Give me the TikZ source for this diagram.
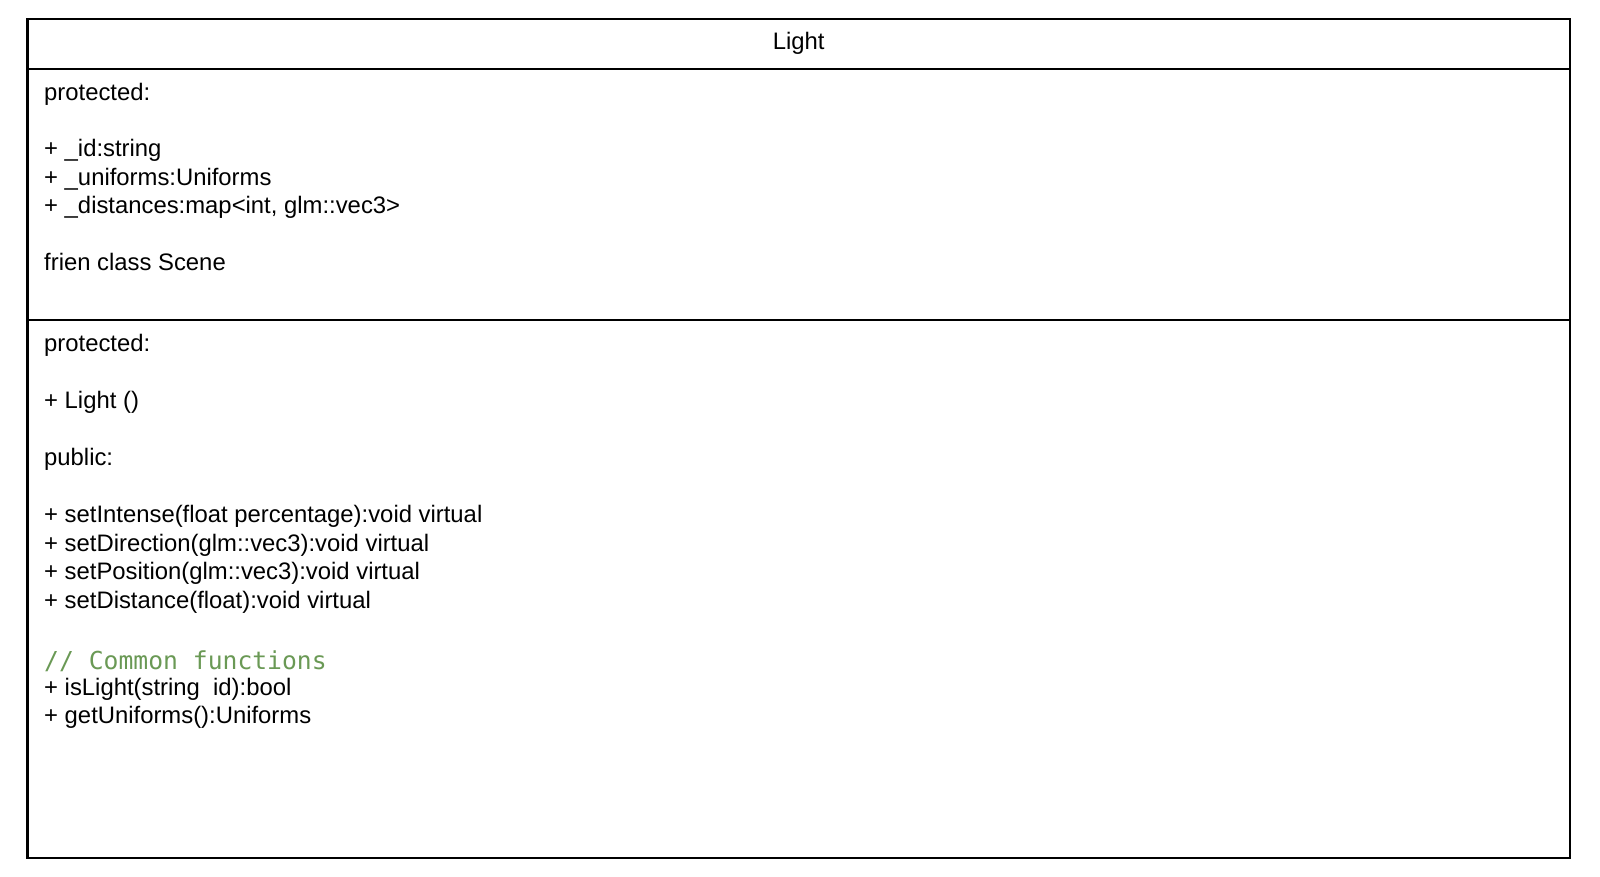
\documentclass[tikz,border=0pt]{standalone}
\usepackage{fontspec}
\setmainfont{Liberation Sans}
\newfontfamily\codefont{DejaVu Sans Mono}
\definecolor{commentgreen}{HTML}{6A9955}
\begin{document}
\begin{tikzpicture}[x=1pt,y=-1pt,
  boxline/.style={line width=2.5pt, draw=black},
  member/.style={anchor=base west, inner sep=0pt, font=\fontsize{23.85}{28}\selectfont},
  comment/.style={anchor=base west, inner sep=0pt, text=commentgreen, font=\codefont\fontsize{24.7}{28}\selectfont},
  title/.style={anchor=base, inner sep=0pt, font=\fontsize{23.85}{28}\selectfont}]
\useasboundingbox (0,0) rectangle (1600,877);
\coordinate (tl) at (27.5,19);
\coordinate (br) at (1570,858);
\coordinate (h1l) at (27.5,69);
\coordinate (h1r) at (1570,69);
\coordinate (h2l) at (27.5,320);
\coordinate (h2r) at (1570,320);
\draw[boxline] (tl) rectangle (br);
\draw[boxline] (h1l) -- (h1r);
\draw[boxline] (h2l) -- (h2r);
\node[title] (t) at (798.75,50) {Light};
\node[member] (a1) at (44,100.5) {protected:};
\node[member] (a2) at (44,157) {+ \_id:string};
\node[member] (a3) at (44,185.5) {+ \_uniforms:Uniforms};
\node[member] (a4) at (44,214) {+ \_distances:map<int, glm::vec3>};
\node[member] (a5) at (44,271) {frien class Scene};
\node[member] (m1) at (44,351) {protected:};
\node[member] (m2) at (44,408) {+ Light ()};
\node[member] (m3) at (44,465) {public:};
\node[member] (m4) at (44,522.5) {+ setIntense(float percentage):void virtual};
\node[member] (m5) at (44,551) {+ setDirection(glm::vec3):void virtual};
\node[member] (m6) at (44,579.5) {+ setPosition(glm::vec3):void virtual};
\node[member] (m7) at (44,608) {+ setDistance(float):void virtual};
\node[comment] (c1) at (44,669.5) {// Common functions};
\node[member] (m8) at (44,695.5) {+ isLight(string\ \ id):bool};
\node[member] (m9) at (44,723.5) {+ getUniforms():Uniforms};
\end{tikzpicture}
\end{document}
